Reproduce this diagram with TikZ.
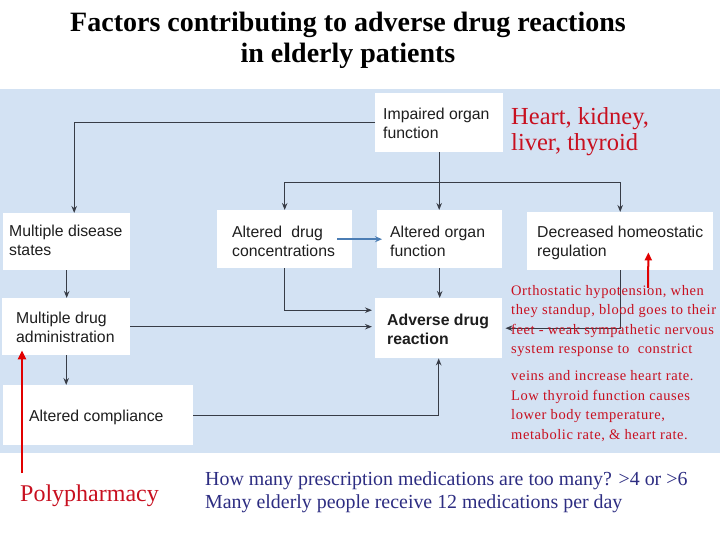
\documentclass[tikz,border=0pt]{standalone}
\usepackage{fontspec}
\setmainfont{Liberation Serif}
\setsansfont{Liberation Sans}
\newfontfamily\orthfont[LetterSpace=4]{Liberation Serif}
\usetikzlibrary{arrows.meta}
\definecolor{bgblue}{RGB}{211,226,243}
\definecolor{linecol}{RGB}{55,60,70}
\definecolor{boxtext}{RGB}{30,30,30}
\definecolor{bluearrow}{RGB}{75,125,180}
\definecolor{arrred}{RGB}{225,0,0}
\definecolor{txtred}{RGB}{200,16,32}
\definecolor{navy}{RGB}{45,45,130}
\newcommand{\boxfont}{\sffamily\fontsize{15.8}{19}\selectfont}
% [downward shift], width, left padding, lines
\newcommand{\bxt}[4][3]{\raisebox{0pt}[\dimexpr\height+2\dimexpr#1pt\relax\relax][\depth]{\makebox[#2pt][l]{\hspace*{#3pt}\begin{tabular}{@{}l@{}}#4\end{tabular}}}}
\tikzset{
  box/.style={fill=white, inner sep=0pt, minimum height=#1pt,
    anchor=north west, font=\boxfont, text=boxtext},
  conn/.style={draw=linecol, line width=1.1pt, -{Stealth[length=7pt,width=5.5pt]}},
  bluearr/.style={draw=bluearrow, line width=1.8pt, -{Stealth[length=7pt,width=6pt]}},
  redarr/.style={draw=arrred, line width=2.8pt, -{Triangle[length=9pt,width=8pt]}},
  redarrthin/.style={draw=arrred, line width=2pt, -{Triangle[length=8pt,width=7pt]}},
  plaintext/.style={inner sep=0pt, align=left, anchor=north west}
}
\begin{document}
\begin{tikzpicture}[x=1pt,y=-1pt]
\useasboundingbox (0,0) rectangle (720,540);
\fill[white] (0,0) rectangle (720,540);
\fill[bgblue] (0,89) rectangle (720,453);

% title
\node[font=\fontsize{28}{31}\selectfont\bfseries, align=center, anchor=north, inner sep=0pt] (title) at (348,12)
  {Factors contributing to adverse drug reactions\\in elderly patients};

% boxes
\node[box=59] (imp) at (375,93) {\bxt{128}{8}{Impaired organ\\function}};
\node[box=57] (mds) at (3,213) {\bxt[0]{127}{6}{Multiple disease\\states}};
\node[box=58] (adc) at (217,210) {\bxt[3.5]{135}{15}{Altered\hspace{0.3em} drug\\concentrations}};
\node[box=58] (aof) at (377,210) {\bxt[3.5]{125}{13}{Altered organ\\function}};
\node[box=58] (dhr) at (527,212) {\bxt[2]{186}{10}{Decreased homeostatic\\regulation}};
\node[box=57] (mda) at (2,298) {\bxt[2.5]{128}{14}{Multiple drug\\administration}};
\node[box=60] (ac) at (3,385) {\bxt[2]{190}{26}{Altered compliance}};
\node[box=60] (adr) at (375,298) {\bxt[3]{127}{12}{\bfseries Adverse drug\\\bfseries reaction}};

% connectors
\path (imp.south) ++(0,30) coordinate (split);
\draw[conn] (imp.west) -| ([xshift=7.5pt]mds.north);
\draw[conn] (imp.south) -- (imp.south |- aof.north);
\draw[conn] (split) -| (adc.north);
\draw[conn] (split) -| (dhr.north);
\draw[bluearr] ([xshift=-15pt]adc.east) -- ([xshift=5pt]aof.west);
\draw[conn] (mds.south) -- (mds.south |- mda.north);
\draw[conn] (mda.south) -- (mda.south |- ac.north);
\draw[conn, shorten >=3pt] (mda.east) -- (mda.east -| adr.west);
\draw[conn, shorten >=3pt] (adc.south) |- ([yshift=18pt]adr.west);
\draw[conn] (aof.south) -- (aof.south |- adr.north);
\draw[conn] (ac.east) -| (adr.south);
\draw[conn] (dhr.south) |- ([xshift=3pt]adr.east);

% red texts
\node[plaintext, font=\fontsize{24.5}{26}\selectfont, text=txtred] (heart) at (511,107) {Heart, kidney,\\liver, thyroid};
\node[plaintext, font={\orthfont\fontsize{14.5}{19.5}\selectfont}, text=txtred] (orth) at (511,285)
  {Orthostatic hypotension, when\\they standup, blood goes to their\\feet - weak sympathetic nervous\\system response to\ \ constrict\\[7.5pt]veins and increase heart rate.\\Low thyroid function causes\\lower body temperature,\\metabolic rate, \& heart rate.};
\node[inner sep=0pt, anchor=base west, font=\fontsize{24}{26}\selectfont, text=txtred] (poly) at (20,501) {Polypharmacy};
\node[plaintext, font=\fontsize{19.9}{23}\selectfont, text=navy] (howmany) at (205,471)
  {How many prescription medications are too many? >4 or >6\\Many elderly people receive 12 medications per day};

% red arrows
\coordinate (polystart) at (22,473);
\coordinate (orthstart) at (648,288);
\draw[redarr] (polystart) -- ([shift={(20pt,5pt)}]mda.south west);
\draw[redarrthin] (orthstart) -- ([shift={(-65pt,18pt)}]dhr.south east);
\end{tikzpicture}
\end{document}
